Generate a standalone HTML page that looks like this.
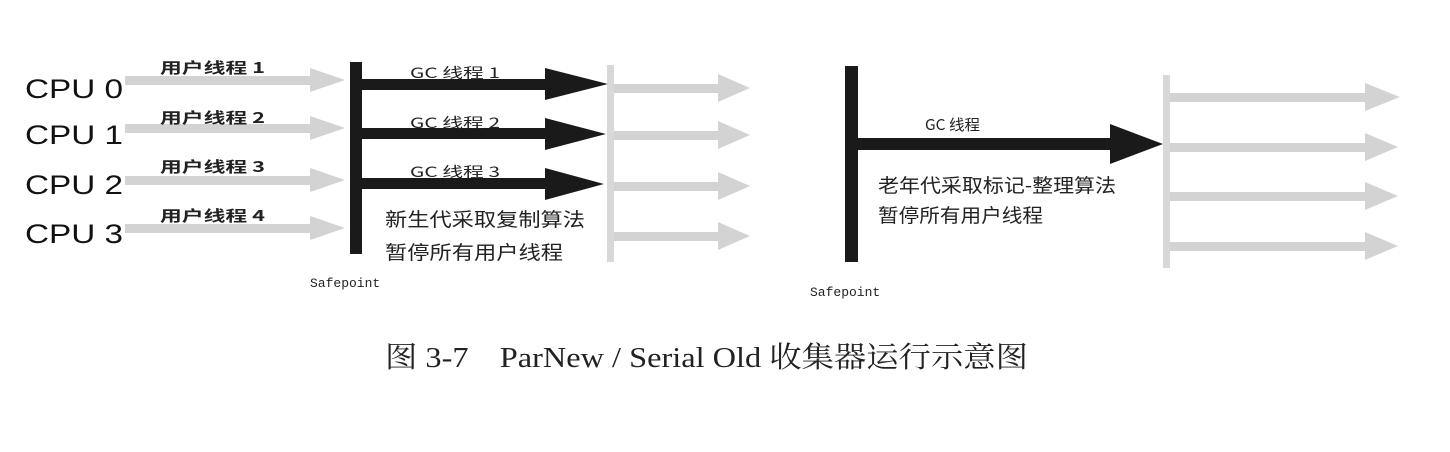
<!DOCTYPE html>
<html><head><meta charset="utf-8"><style>
html,body{margin:0;padding:0;background:#fff;}
svg{display:block}
</style></head><body>
<svg width="1450" height="452" viewBox="0 0 1450 452" xmlns="http://www.w3.org/2000/svg">
<g font-family="Liberation Sans, sans-serif" font-size="27" fill="#111">
<text x="25" y="98" textLength="98" lengthAdjust="spacingAndGlyphs">CPU 0</text>
<text x="25" y="144" textLength="98" lengthAdjust="spacingAndGlyphs">CPU 1</text>
<text x="25" y="194" textLength="98" lengthAdjust="spacingAndGlyphs">CPU 2</text>
<text x="25" y="243" textLength="98" lengthAdjust="spacingAndGlyphs">CPU 3</text>
</g>
<g fill="#d3d3d3">
<rect x="125" y="76" width="190" height="9"/><polygon points="310,68 345,80 310,92"/>
<rect x="125" y="124" width="190" height="9"/><polygon points="310,116 345,128 310,140"/>
<rect x="125" y="176" width="190" height="9"/><polygon points="310,168 345,180 310,192"/>
<rect x="125" y="224" width="190" height="9"/><polygon points="310,216 345,228 310,240"/>
</g>
<g font-family="Noto Sans CJK SC, sans-serif" font-size="15" font-weight="bold" fill="#222">
<text x="160" y="73" textLength="105" lengthAdjust="spacingAndGlyphs">用户线程 1</text>
<text x="160" y="123" textLength="105" lengthAdjust="spacingAndGlyphs">用户线程 2</text>
<text x="160" y="172" textLength="105" lengthAdjust="spacingAndGlyphs">用户线程 3</text>
<text x="160" y="221" textLength="105" lengthAdjust="spacingAndGlyphs">用户线程 4</text>
</g>
<rect x="350" y="62" width="12" height="192" fill="#1a1a1a"/>
<g fill="#1a1a1a">
<rect x="362" y="79" width="188" height="11"/><polygon points="545,68 608,84 545,100"/>
<rect x="362" y="128" width="188" height="11"/><polygon points="545,118 606,134 545,150"/>
<rect x="362" y="178" width="188" height="11"/><polygon points="545,168 604,184 545,200"/>
</g>
<g font-family="Noto Sans CJK SC, sans-serif" font-size="14" fill="#222">
<text x="410" y="78" textLength="90" lengthAdjust="spacingAndGlyphs">GC 线程 1</text>
<text x="410" y="128" textLength="90" lengthAdjust="spacingAndGlyphs">GC 线程 2</text>
<text x="410" y="177" textLength="90" lengthAdjust="spacingAndGlyphs">GC 线程 3</text>
</g>
<g font-family="Noto Sans CJK SC, sans-serif" font-size="19" fill="#222">
<text x="385" y="226" textLength="200" lengthAdjust="spacingAndGlyphs">新生代采取复制算法</text>
<text x="385" y="259" textLength="178" lengthAdjust="spacingAndGlyphs">暂停所有用户线程</text>
</g>
<text x="310" y="287" font-family="Liberation Mono, monospace" font-size="13" fill="#222">Safepoint</text>
<rect x="607" y="65" width="7" height="197" fill="#d8d8d8"/>
<g fill="#d3d3d3">
<rect x="614" y="84" width="110" height="9"/><polygon points="718,74 750,88 718,102"/>
<rect x="614" y="131" width="110" height="9"/><polygon points="718,121 750,135 718,149"/>
<rect x="614" y="182" width="110" height="9"/><polygon points="718,172 750,186 718,200"/>
<rect x="614" y="232" width="110" height="9"/><polygon points="718,222 750,236 718,250"/>
</g>
<rect x="845" y="66" width="13" height="196" fill="#1a1a1a"/>
<rect x="858" y="138" width="256" height="12" fill="#1a1a1a"/>
<polygon points="1110,124 1163,144 1110,164" fill="#1a1a1a"/>
<text x="925" y="130" font-family="Noto Sans CJK SC, sans-serif" font-size="15" fill="#222" textLength="55" lengthAdjust="spacingAndGlyphs">GC 线程</text>
<g font-family="Noto Sans CJK SC, sans-serif" font-size="19" fill="#222">
<text x="878" y="192" textLength="238" lengthAdjust="spacingAndGlyphs">老年代采取标记-整理算法</text>
<text x="878" y="222" textLength="165" lengthAdjust="spacingAndGlyphs">暂停所有用户线程</text>
</g>
<text x="810" y="296" font-family="Liberation Mono, monospace" font-size="13" fill="#222">Safepoint</text>
<rect x="1163" y="75" width="7" height="193" fill="#d8d8d8"/>
<g fill="#d3d3d3">
<rect x="1170" y="93" width="200" height="9"/><polygon points="1365,83 1400,97 1365,111"/>
<rect x="1170" y="143" width="200" height="9"/><polygon points="1365,133 1398,147 1365,161"/>
<rect x="1170" y="192" width="200" height="9"/><polygon points="1365,182 1398,196 1365,210"/>
<rect x="1170" y="242" width="200" height="9"/><polygon points="1365,232 1398,246 1365,260"/>
</g>
<text x="385" y="367" font-family="Liberation Serif, Noto Serif CJK SC, serif" font-size="29" fill="#222" textLength="643" lengthAdjust="spacingAndGlyphs">图 3-7<tspan dx="28">ParNew / Serial Old 收集器运行示意图</tspan></text>
</svg>
</body></html>
